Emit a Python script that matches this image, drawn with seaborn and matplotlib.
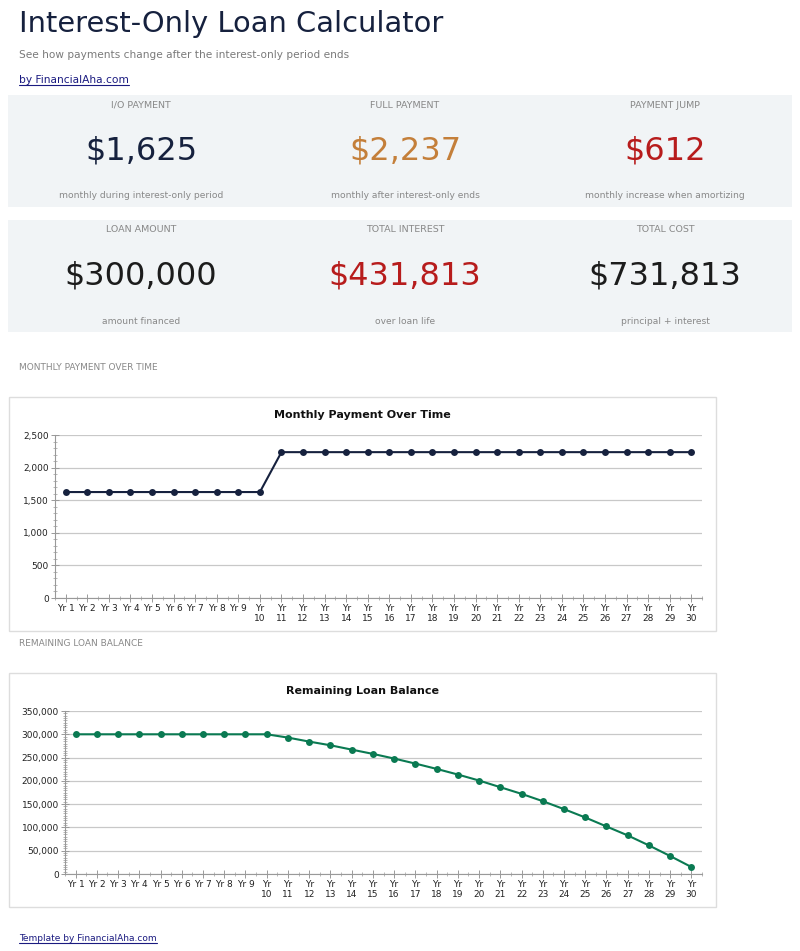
import numpy as np
import pandas as pd
import matplotlib
matplotlib.use('Agg')
import matplotlib.pyplot as plt
import seaborn as sns
from matplotlib.patches import Rectangle
from matplotlib.lines import Line2D
from matplotlib.ticker import FuncFormatter, AutoMinorLocator

# Data
year_labels = ['Yr 1', 'Yr 2', 'Yr 3', 'Yr 4', 'Yr 5', 'Yr 6', 'Yr 7', 'Yr 8', 'Yr 9',
               'Yr\n10', 'Yr\n11', 'Yr\n12', 'Yr\n13', 'Yr\n14', 'Yr\n15', 'Yr\n16',
               'Yr\n17', 'Yr\n18', 'Yr\n19', 'Yr\n20', 'Yr\n21', 'Yr\n22', 'Yr\n23',
               'Yr\n24', 'Yr\n25', 'Yr\n26', 'Yr\n27', 'Yr\n28', 'Yr\n29', 'Yr\n30']
monthly_payment = [1625, 1625, 1625, 1625, 1625, 1625, 1625, 1625, 1625, 1625,
                   2237, 2237, 2237, 2237, 2237, 2237, 2237, 2237, 2237, 2237,
                   2237, 2237, 2237, 2237, 2237, 2237, 2237, 2237, 2237, 2237]
remaining_balance = [300000, 300000, 300000, 300000, 300000, 300000, 300000, 300000, 300000, 300000,
                     292900, 284300, 276400, 267100, 257900, 247900, 237100, 225700, 213600, 200700,
                     186400, 172100, 156400, 139300, 121400, 102100, 82900, 61400, 38600, 15000]

kpi_row1_labels = ['I/O PAYMENT', 'FULL PAYMENT', 'PAYMENT JUMP']
kpi_row1_values = ['$1,625', '$2,237', '$612']
kpi_row1_notes = ['monthly during interest-only period', 'monthly after interest-only ends',
                  'monthly increase when amortizing']
kpi_row2_labels = ['LOAN AMOUNT', 'TOTAL INTEREST', 'TOTAL COST']
kpi_row2_values = ['$300,000', '$431,813', '$731,813']
kpi_row2_notes = ['amount financed', 'over loan life', 'principal + interest']

sns.set_style('white')
plt.rcParams['font.family'] = ['DejaVu Sans']

W, H = 800, 951
fig = plt.figure(figsize=(W / 100, H / 100), dpi=100)
fig.patch.set_facecolor('white')


def px(x, y):
    return x / W, 1 - y / H


def box(x1, y1, x2, y2, fc, ec='none', lw=0):
    fig.add_artist(Rectangle((x1 / W, 1 - y2 / H), (x2 - x1) / W, (y2 - y1) / H,
                             transform=fig.transFigure, facecolor=fc, edgecolor=ec,
                             linewidth=lw, zorder=-5))


def text(x, y, s, **kw):
    return fig.text(*px(x, y), s, **kw)


def underline(x1, x2, y, color):
    fig.add_artist(Line2D([x1 / W, x2 / W], [1 - y / H, 1 - y / H],
                          transform=fig.transFigure, color=color, linewidth=0.8))


# Header
text(19, 32, 'Interest-Only Loan Calculator', fontsize=20.8, color='#16213e', va='baseline')
text(19, 58, 'See how payments change after the interest-only period ends',
     fontsize=7.6, color='#7a7a7a', va='baseline')
link1 = text(19, 83, 'by FinancialAha.com', fontsize=7.7, color='#1a1a80', va='baseline')
link2 = text(19, 941, 'Template by FinancialAha.com', fontsize=6.5, color='#1a1a80', va='baseline')

# KPI panels
col_x = [141, 405, 665]
row1_colors = ['#16213e', '#c47f3a', '#b71c1c']
row2_colors = ['#1c1c1c', '#b71c1c', '#1c1c1c']
for top, labels, values, notes, colors in [
        (95, kpi_row1_labels, kpi_row1_values, kpi_row1_notes, row1_colors),
        (220, kpi_row2_labels, kpi_row2_values, kpi_row2_notes, row2_colors)]:
    box(8, top, 792, top + 112, '#f1f4f6')
    for cx, lab, val, note, c in zip(col_x, labels, values, notes, colors):
        text(cx, top + 10, lab, fontsize=6.8, color='#888888', ha='center', va='center')
        text(cx, top + 56, val, fontsize=23, color=c, ha='center', va='center')
        text(cx, top + 101, note, fontsize=6.6, color='#888888', ha='center', va='center')

# Section labels
text(19, 367, 'MONTHLY PAYMENT OVER TIME', fontsize=6.5, color='#888888', va='center')
text(19, 643, 'REMAINING LOAN BALANCE', fontsize=6.5, color='#888888', va='center')

df = pd.DataFrame({'idx': np.arange(len(year_labels)), 'year': year_labels,
                   'payment': monthly_payment, 'balance': remaining_balance})


def chart(box_top, ax_left, ax_top, ax_bottom, col, color, title, ymax, ystep, nminor):
    box(9, box_top, 716, box_top + 234, 'white', ec='#dddddd', lw=1)
    text(362.5, box_top + 18, title, fontsize=8, fontweight='bold', color='#111111',
         ha='center', va='center')
    ax = fig.add_axes([ax_left / W, 1 - ax_bottom / H, (702 - ax_left) / W, (ax_bottom - ax_top) / H])
    ax.set_facecolor('none')
    sns.lineplot(data=df, x='idx', y=col, ax=ax, color=color, linewidth=1.5,
                 marker='o', markersize=5, markeredgewidth=0)
    ax.set_xlim(-0.5, len(year_labels) - 0.5)
    ax.set_ylim(0, ymax)
    ax.set_yticks(np.arange(0, ymax + 1, ystep))
    ax.yaxis.set_major_formatter(FuncFormatter(lambda v, p: f'{int(v):,}'))
    ax.yaxis.set_minor_locator(AutoMinorLocator(nminor))
    ax.set_xticks(df['idx'])
    ax.set_xticklabels(year_labels, linespacing=1.15)
    ax.set_xticks(np.arange(-0.5, len(year_labels), 1), minor=True)
    ax.set_xlabel('')
    ax.set_ylabel('')
    ax.grid(axis='y', color='#c8c8c8', linewidth=0.9)
    ax.set_axisbelow(True)
    for s in ['top', 'right']:
        ax.spines[s].set_visible(False)
    for s in ['left', 'bottom']:
        ax.spines[s].set_color('#999999')
        ax.spines[s].set_linewidth(0.8)
    ax.tick_params(which='both', bottom=True, left=True)
    ax.tick_params(which='major', direction='inout', length=6, width=0.7, color='#999999',
                   labelcolor='#222222', labelsize=6.5, pad=1.5)
    ax.tick_params(which='minor', direction='inout', length=3.5, width=0.6, color='#aaaaaa')
    return ax


chart(397, 55, 435, 598, 'payment', '#16213e', 'Monthly Payment Over Time', 2500, 500, 5)
chart(673, 65, 711, 874, 'balance', '#0a7a52', 'Remaining Loan Balance', 350000, 50000, 10)

# Underlines for links, just below the baseline
fig.canvas.draw()
underline(19, link1.get_window_extent().x1, 84.5, link1.get_color())
underline(19, link2.get_window_extent().x1, 942.5, link2.get_color())

fig.savefig('out.png', dpi=100)
